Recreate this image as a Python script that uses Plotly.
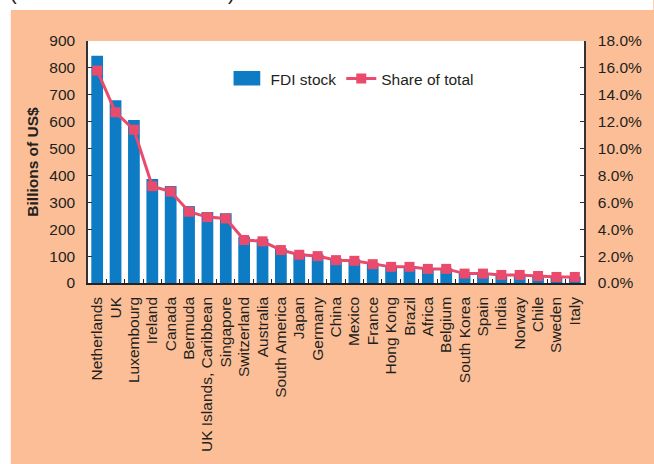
import plotly.graph_objects as go

countries = ["Netherlands", "UK", "Luxembourg", "Ireland", "Canada", "Bermuda",
             "UK Islands, Caribbean", "Singapore", "Switzerland", "Australia",
             "South America", "Japan", "Germany", "China", "Mexico", "France",
             "Hong Kong", "Brazil", "Africa", "Belgium", "South Korea", "Spain",
             "India", "Norway", "Chile", "Sweden", "Italy"]
fdi_stock = [845, 680, 606, 387, 361, 286, 264, 259, 172, 164, 129, 110, 107, 91,
             88, 75, 64, 63, 56, 55, 37, 37, 32, 32, 28, 24, 24]
share_pct = [15.8, 12.7, 11.4, 7.2, 6.8, 5.3, 4.9, 4.8, 3.2, 3.1, 2.45, 2.1, 2.0,
             1.7, 1.65, 1.4, 1.2, 1.2, 1.05, 1.05, 0.7, 0.7, 0.6, 0.6, 0.52, 0.45, 0.45]
left_ticks = [0, 100, 200, 300, 400, 500, 600, 700, 800, 900]

BLUE = "#0E7CC4"
PINK = "#EA4A6C"
PEACH = "#FBBE96"
FONT = "Liberation Sans"
TXT = "#231F20"

# plot area in pixels
L, R, T, B = 88, 589, 41, 283
W, H = 654, 464


def px(x):
    return (x - L) / (R - L)


def py(y):
    return (B - y) / (B - T)


fig = go.Figure()
fig.add_trace(go.Bar(x=countries, y=fdi_stock, name="FDI stock",
                     marker=dict(color=BLUE, line=dict(width=0))))
fig.add_trace(go.Scatter(x=countries, y=[v / 100 for v in share_pct], name="Share of total",
                         yaxis="y2", mode="lines+markers",
                         line=dict(color=PINK, width=3),
                         marker=dict(symbol="square", size=10, color=PINK)))

fig.update_layout(
    width=W, height=H,
    margin=dict(l=L, r=W - R, t=T, b=H - B, pad=0),
    paper_bgcolor=PEACH, plot_bgcolor="white",
    font=dict(family=FONT, size=15.5, color=TXT),
    bargap=0.36,
    showlegend=True,
    legend=dict(orientation="h", x=px(232), xanchor="left", y=py(79), yanchor="middle",
                bgcolor="rgba(0,0,0,0)", font=dict(size=15.5, color=TXT),
                itemwidth=30, traceorder="normal"),
    xaxis=dict(type="category", range=[-0.5, len(countries) - 0.5],
               tickmode="array", tickvals=countries, ticktext=countries,
               showline=True, linecolor="#222", linewidth=1.5,
               ticks="inside", tickson="boundaries", ticklen=4, tickwidth=1, tickcolor="#222",
               tickangle=-90, tickfont=dict(size=15.5), showgrid=False,
               ticklabelstandoff=6),
    yaxis=dict(range=[0, 900], tickvals=left_ticks, showline=True, linecolor="#333",
               linewidth=1.5, ticks="inside", ticklen=4, tickcolor="#333",
               showgrid=False, zeroline=False, ticklabelstandoff=8,
               title=dict(text="<b>Billions of US$</b>", standoff=7, font=dict(size=15.5))),
    yaxis2=dict(range=[0, 0.18], dtick=0.02, tickformat=".1%", overlaying="y", side="right",
                showline=True, linecolor="#333", linewidth=1.5, ticks="inside", ticklen=4,
                tickcolor="#333", showgrid=False, zeroline=False, ticklabelstandoff=9),
    shapes=[
        dict(type="rect", xref="paper", yref="paper", x0=px(-5), x1=px(W + 5),
             y0=py(10), y1=py(-5), fillcolor="white", line=dict(width=0), layer="below"),
        dict(type="rect", xref="paper", yref="paper", x0=px(-5), x1=px(10),
             y0=py(H + 5), y1=py(-5), fillcolor="white", line=dict(width=0), layer="below"),
        # wider legend swatch for the bar series, as in the original
        dict(type="rect", xref="paper", yref="paper", x0=px(235), x1=px(262),
             y0=py(85.5), y1=py(71), fillcolor=BLUE, line=dict(width=0), layer="above"),
    ],
    annotations=[
        dict(text="(", xref="paper", yref="paper", x=px(7), y=py(6), xanchor="left",
             yanchor="bottom", showarrow=False, font=dict(size=20, color=TXT)),
        dict(text=")", xref="paper", yref="paper", x=px(227), y=py(6), xanchor="left",
             yanchor="bottom", showarrow=False, font=dict(size=20, color=TXT)),
    ],
)

fig.write_html("out.html")
